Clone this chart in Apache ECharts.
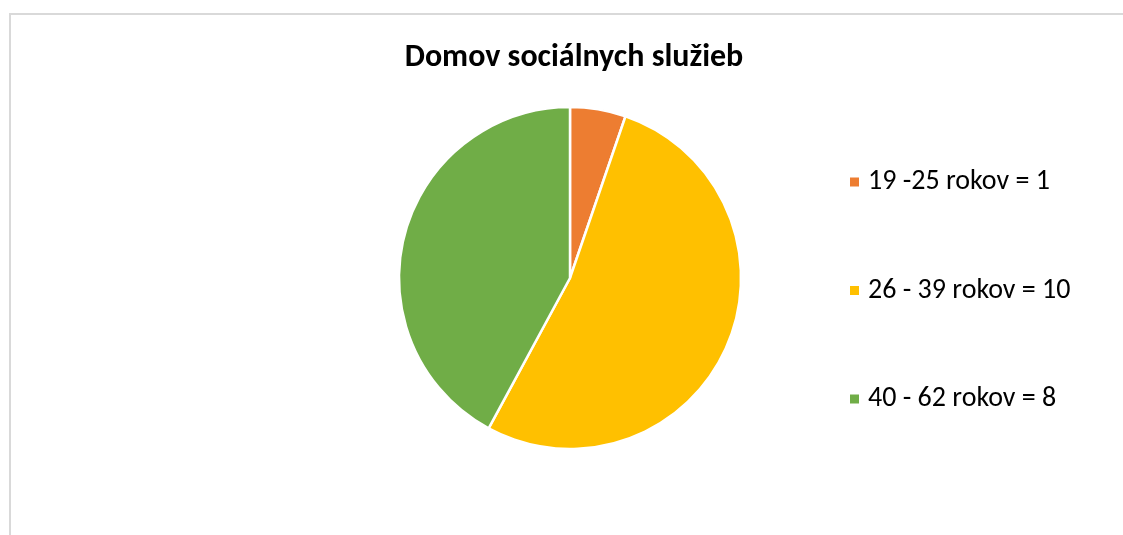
<!DOCTYPE html>
<html><head><meta charset="utf-8">
<script src="https://cdn.jsdelivr.net/npm/echarts@6/dist/echarts.min.js"></script>
<style>html,body{margin:0;padding:0;background:#fff}#c{width:1123px;height:535px}</style>
</head><body><div id="c"></div>
<script>
const title = 'Domov sociálnych služieb';
const categories = ['19 -25 rokov = 1', '26 - 39 rokov = 10', '40 - 62 rokov = 8'];
const values = [1, 10, 8];
const colors = ['#ED7D31', '#FFC000', '#70AD47'];
const FONT = "Carlito, 'Liberation Sans', sans-serif";
const chart = echarts.init(document.getElementById('c'), null, {renderer: 'canvas'});
chart.setOption({
  animation: false,
  color: colors,
  title: {text: title, left: 569, textAlign: 'center', top: 37,
    textStyle: {fontFamily: FONT, fontWeight: 'bold', fontSize: 32, lineHeight: 32, color: '#000'}},
  legend: {orient: 'vertical', left: 843, top: 163, itemGap: 80.5, itemWidth: 11, itemHeight: 11,
    icon: 'rect', data: categories,
    textStyle: {fontFamily: FONT, fontSize: 28, lineHeight: 28, color: '#000', padding: [0,0,0,3]}},
  graphic: [{type: 'rect', shape: {x: 10, y: 14, width: 1200, height: 600},
    style: {fill: 'none', stroke: '#d9d9d9', lineWidth: 2}, silent: true}],
  series: [{type: 'pie', center: [570, 278], radius: 171, startAngle: 90, clockwise: true,
    label: {show: false}, labelLine: {show: false},
    itemStyle: {borderColor: '#fff', borderWidth: 2.5},
    data: categories.map((n, i) => ({name: n, value: values[i]}))}]
});
</script></body></html>
